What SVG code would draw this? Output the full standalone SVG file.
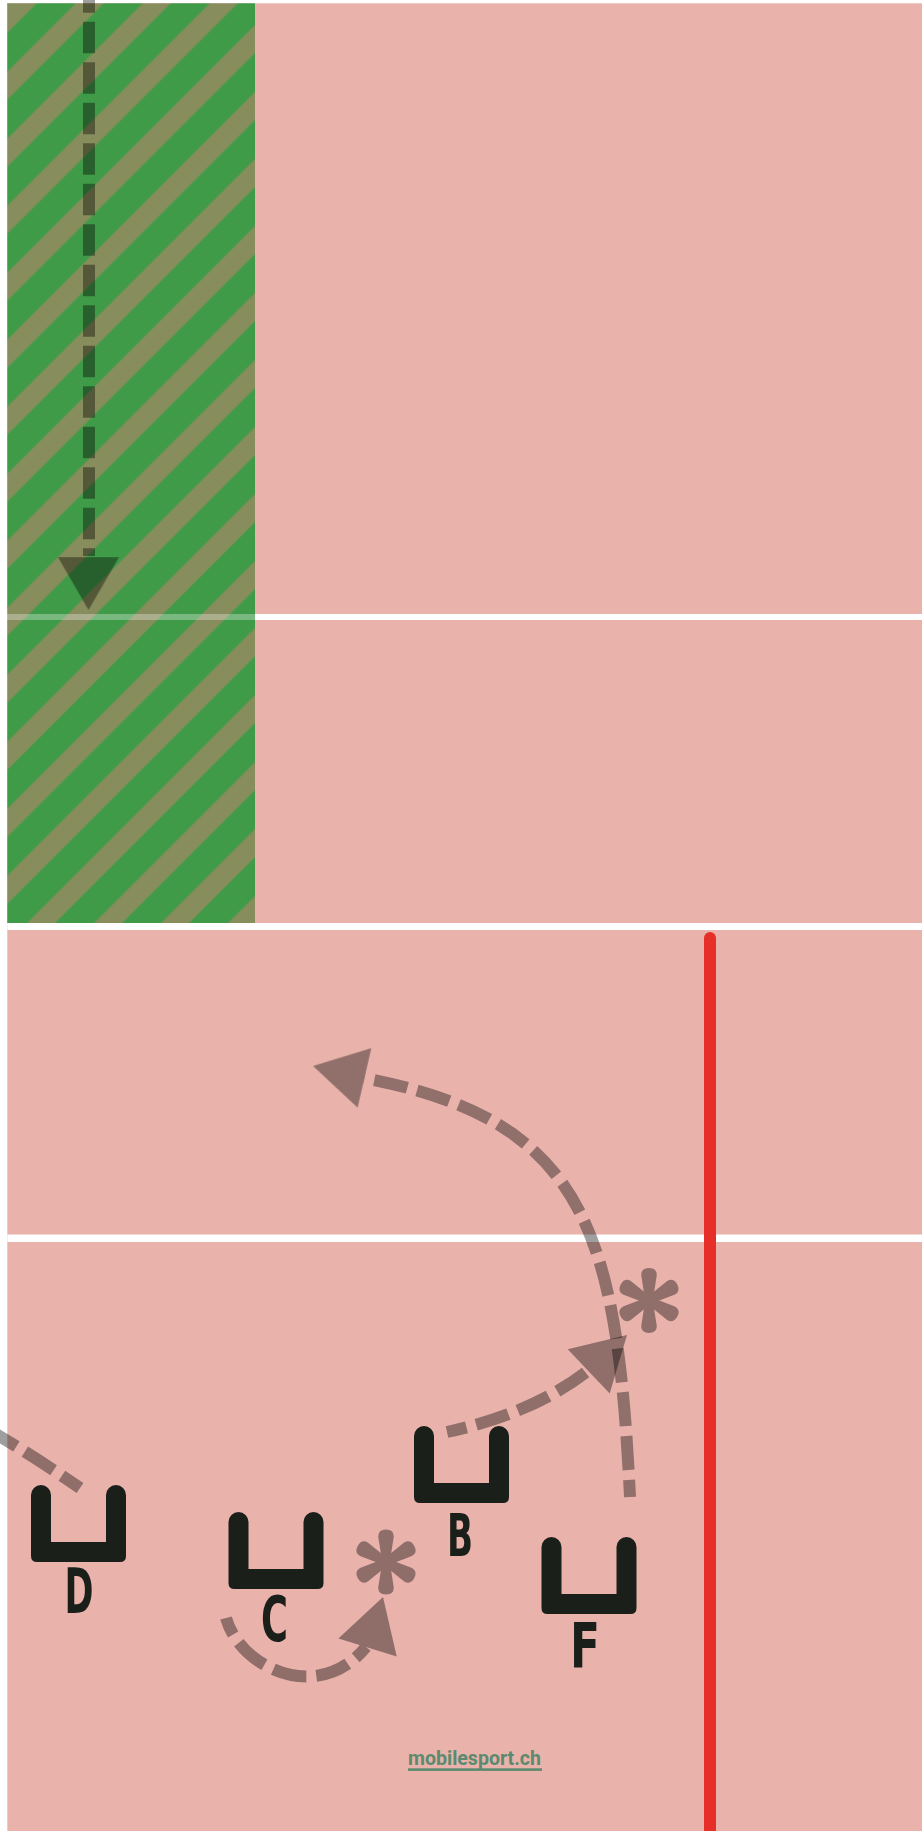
<svg xmlns="http://www.w3.org/2000/svg" width="922" height="1831" viewBox="0 0 922 1831">
<defs>
<style>
.pink{fill:#E9B3AC}
.gap{fill:#FFFFFF}
.dash{fill:none;stroke:#000;stroke-width:12;stroke-dasharray:34 10}
.arr{opacity:.38}
.cone{fill:#1B1F1A}
.lbl{font-family:"DejaVu Sans Condensed","DejaVu Sans",sans-serif;font-weight:bold;font-size:63px;fill:#1B1F1A;text-anchor:middle}
.brand{font-family:Roboto,"Liberation Sans",sans-serif;font-weight:bold;font-size:20px;fill:#5B8A6F}
</style>
<pattern id="stripes" patternUnits="userSpaceOnUse" width="47.38" height="47.38" patternTransform="rotate(45)">
<rect width="47.38" height="47.38" fill="#409B48"/>
<rect x="8.49" width="19.8" height="47.38" fill="#878D5C"/>
</pattern>
<path id="head" d="M0,0 L-52.8,-30.5 L-52.8,30.5 Z"/>
<path id="u" d="M0,10 A10,10 0 0 1 20,10 V57 H75 V10 A10,10 0 0 1 95,10 V71 Q95,77 89,77 H6 Q0,77 0,71 Z"/>
<path id="arm" d="M-3.8,0 L-7.8,-25.5 Q-7.8,-32.5 0,-32.5 Q7.8,-32.5 7.8,-25.5 L3.8,0 Z"/>
<g id="ast">
<circle r="6"/>
<use href="#arm"/>
<use href="#arm" transform="rotate(60)"/>
<use href="#arm" transform="rotate(120)"/>
<use href="#arm" transform="rotate(180)"/>
<use href="#arm" transform="rotate(240)"/>
<use href="#arm" transform="rotate(300)"/>
</g>
</defs>

<g id="field">
<rect width="922" height="1831" fill="#FFFFFF"/>
<rect class="pink" x="7.3" y="3.3" width="914.7" height="1827.7"/>
<rect class="gap" x="7.3" y="614" width="914.7" height="6"/>
<rect class="gap" x="7.3" y="923" width="914.7" height="7"/>
<rect class="gap" x="7.3" y="1234.5" width="914.7" height="7.5"/>
</g>

<g id="zone">
<rect x="7.3" y="3.3" width="247.7" height="919.7" fill="url(#stripes)"/>
<rect x="7.3" y="614" width="247.7" height="6" fill="#FFFFFF" opacity=".3"/>
</g>

<g id="redline">
<line x1="710" y1="938" x2="710" y2="1845" stroke="#E52F28" stroke-width="12" stroke-linecap="round"/>
</g>

<g id="connectors">
<g class="arr" id="arrow-zone">
<path class="dash" style="stroke-dasharray:31.5 9" d="M89,-18.8 V556"/>
<use href="#head" transform="translate(88.5,610) rotate(90)"/>
</g>
<g class="arr" id="arrow-F">
<path class="dash" stroke-dashoffset="17" d="M630,1497 C617,1230 585,1120 364,1078"/>
<use href="#head" transform="translate(313,1066) rotate(193)"/>
</g>
<g class="arr" id="arrow-B">
<path class="dash" stroke-dashoffset="14" d="M447,1432 Q535,1413 590,1369"/>
<use href="#head" transform="translate(627,1335) rotate(-43.5)"/>
</g>
<g class="arr" id="arrow-C">
<path class="dash" stroke-dashoffset="16" d="M226,1618 C240,1668 318,1705 366,1647"/>
<use href="#head" transform="translate(383,1597) rotate(-73)"/>
</g>
<g class="arr" id="arrow-D">
<path class="dash" stroke-dashoffset="18.3" d="M-35,1416 Q25,1450 80,1488"/>
</g>
</g>

<g id="ball1"><use href="#ast" class="arr" transform="translate(649,1300.5)"/></g>
<g id="ball2"><use href="#ast" class="arr" transform="translate(386,1562)"/></g>

<g id="node-D">
<use href="#u" class="cone" x="31" y="1485"/>
<text class="lbl" x="79" y="1613" textLength="29" lengthAdjust="spacingAndGlyphs">D</text>
</g>
<g id="node-C">
<use href="#u" class="cone" x="228.5" y="1512"/>
<text class="lbl" x="274.5" y="1641" textLength="27" lengthAdjust="spacingAndGlyphs">C</text>
</g>
<g id="node-B">
<use href="#u" class="cone" x="414" y="1426"/>
<text class="lbl" x="460" y="1556" style="font-size:59px" textLength="26" lengthAdjust="spacingAndGlyphs">B</text>
</g>
<g id="node-F">
<use href="#u" class="cone" x="541.5" y="1537"/>
<text class="lbl" x="585" y="1667" textLength="30" lengthAdjust="spacingAndGlyphs">F</text>
</g>

<g id="credit">
<text class="brand" x="408" y="1765" textLength="133" lengthAdjust="spacingAndGlyphs">mobilesport.ch</text>
<rect x="408" y="1768.3" width="134" height="2.6" fill="#5B8A6F"/>
</g>
</svg>
